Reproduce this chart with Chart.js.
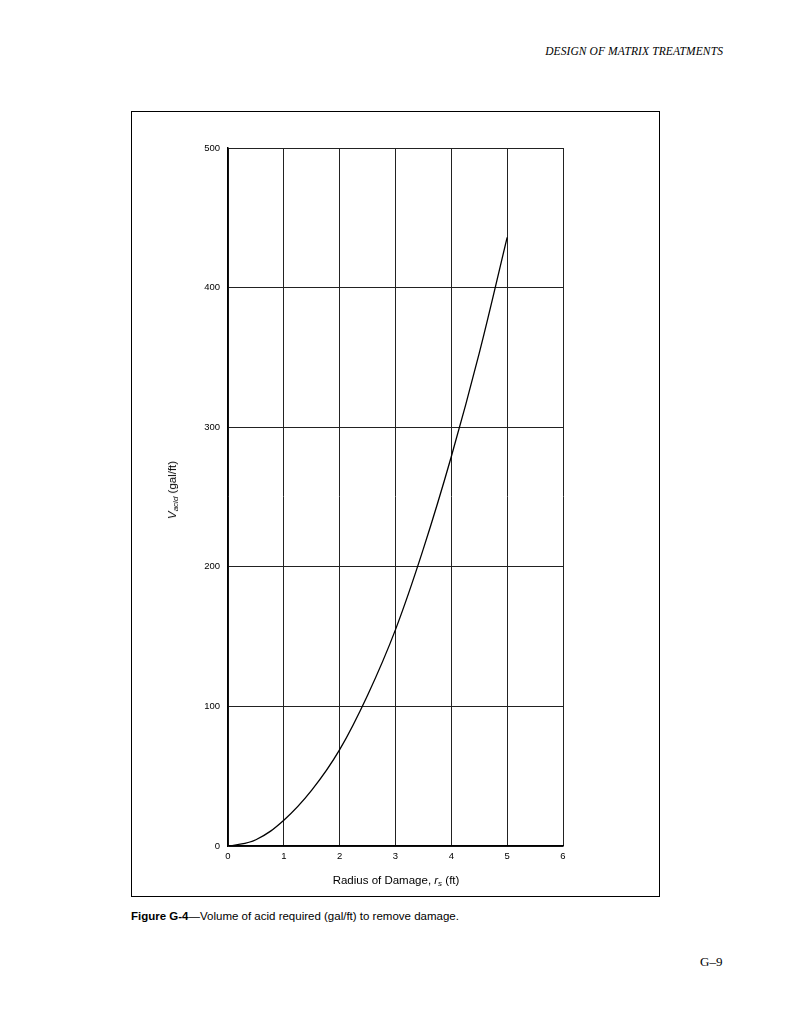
<!DOCTYPE html>
<html>
<head>
<meta charset="utf-8">
<script src="https://cdn.jsdelivr.net/npm/chart.js@4.4.1/dist/chart.umd.min.js"></script>
<style>
  html, body { margin: 0; padding: 0; background: #fff; width: 791px; height: 1024px; overflow: hidden; }
  body { position: relative; font-family: "Liberation Sans", Arial, sans-serif; color: #000; }
  #header { position: absolute; right: 68px; top: 45px; font-family: "Liberation Serif", "Times New Roman", serif; font-style: italic; font-size: 11.5px; letter-spacing: 0.1px; }
  #frame { position: absolute; left: 131px; top: 111px; width: 527px; height: 784px; border: 1.5px solid #000; }
  #wrap { position: absolute; left: 131px; top: 111px; width: 530px; height: 787px; }
  #ytitle { position: absolute; left: 173px; top: 490px; transform: translate(-50%, -50%) rotate(-90deg); font-size: 11.5px; white-space: nowrap; }
  #xtitle { position: absolute; left: 396px; top: 881px; transform: translate(-50%, -50%); font-size: 11.5px; white-space: nowrap; }
  sub { font-size: 8px; vertical-align: -2px; }
  #caption { position: absolute; left: 131px; top: 910px; font-size: 11.5px; white-space: nowrap; }
  #page { position: absolute; left: 700px; top: 954px; font-family: "Liberation Serif", "Times New Roman", serif; font-size: 13px; }
</style>
</head>
<body>
<div id="header">DESIGN OF MATRIX TREATMENTS</div>
<div id="frame"></div>
<div id="wrap"><canvas id="c" width="530" height="787"></canvas></div>
<div id="ytitle"><i>V</i><sub><i>acid</i></sub> (gal/ft)</div>
<div id="xtitle">Radius of Damage, <i>r</i><sub><i>s</i></sub> (ft)</div>
<div id="caption"><b>Figure G-4</b>—Volume of acid required (gal/ft) to remove damage.</div>
<div id="page">G–9</div>
<script>
// Data
const radius = [0.05, 0.5, 1, 1.5, 2, 2.5, 3, 3.5, 4, 4.5, 5];
const volume = [0, 4.5, 18.5, 40, 69, 108, 155, 213, 279, 353, 436];
const xTicks = [0, 1, 2, 3, 4, 5, 6];
const yTicks = [0, 100, 200, 300, 400, 500];

const points = radius.map((r, i) => ({ x: r, y: volume[i] }));

new Chart(document.getElementById('c'), {
  type: 'line',
  data: {
    datasets: [{
      data: points,
      borderColor: '#000',
      borderWidth: 1.3,
      pointRadius: 0,
      fill: false,
      tension: 0.4
    }]
  },
  options: {
    responsive: false,
    animation: false,
    devicePixelRatio: 1,
    layout: { padding: { left: 0, top: 37, right: 98, bottom: 0 } },
    plugins: { legend: { display: false }, tooltip: { enabled: false } },
    scales: {
      x: {
        type: 'linear',
        min: xTicks[0],
        max: xTicks[xTicks.length - 1],
        afterBuildTicks: (s) => { s.ticks = xTicks.map(v => ({ value: v })); },
        afterFit: (s) => { s.height = 52; },
        grid: { color: '#222', lineWidth: 1, drawTicks: false },
        border: { color: '#000', width: 1.5 },
        ticks: { color: '#000', padding: 5, font: { family: 'Liberation Sans', size: 9.5 }, maxRotation: 0 }
      },
      y: {
        type: 'linear',
        min: yTicks[0],
        max: yTicks[yTicks.length - 1],
        afterBuildTicks: (s) => { s.ticks = yTicks.map(v => ({ value: v })); },
        afterFit: (s) => { s.width = 97; },
        grid: { color: '#222', lineWidth: 1, drawTicks: false },
        border: { color: '#000', width: 1.5 },
        ticks: { color: '#000', padding: 8, font: { family: 'Liberation Sans', size: 9.5 } }
      }
    }
  }
});
</script>
</body>
</html>
